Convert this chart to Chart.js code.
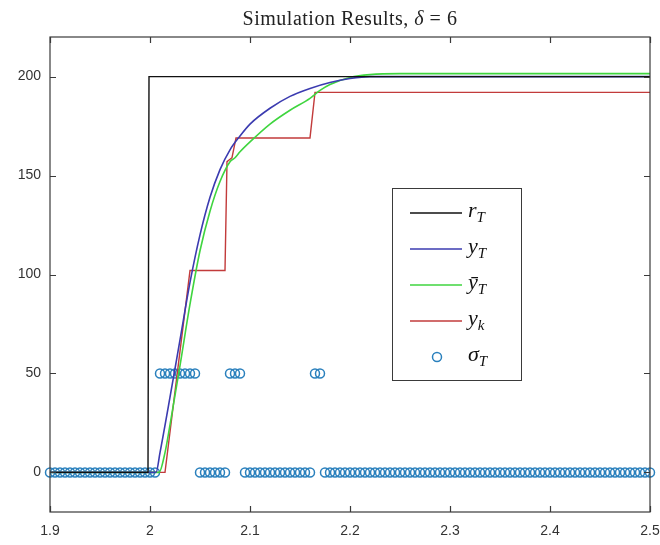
<!DOCTYPE html>
<html>
<head>
<meta charset="utf-8">
<script src="https://cdn.jsdelivr.net/npm/chart.js@4.4.0/dist/chart.umd.min.js"></script>
<style>
  html, body { margin: 0; padding: 0; background: #fff; }
  #wrap { width: 660px; height: 545px; }
</style>
</head>
<body>
<div id="wrap"><canvas id="sim"></canvas></div>
<script>
var xTicks = [1.9, 2.0, 2.1, 2.2, 2.3, 2.4, 2.5];
var yTicks = [0, 50, 100, 150, 200];

// r_T : reference step
var tRef = [1.9, 1.998, 1.999, 2.5];
var rRef = [0, 0, 200, 200];

// y_T : plant output
var tOut = [1.9, 2.006, 2.01, 2.02, 2.03, 2.04, 2.05, 2.06, 2.07, 2.08, 2.09, 2.10, 2.12, 2.14, 2.16, 2.18, 2.20, 2.22, 2.5];
var yOut = [0, 0, 10, 38, 67, 96, 120, 139, 153, 163, 170, 176, 184, 190, 194, 197, 199, 200, 200];

// y-bar_T : estimated output
var tEst = [1.9, 2.009, 2.015, 2.02, 2.03, 2.04, 2.05, 2.06, 2.07, 2.08, 2.085, 2.09, 2.10, 2.12, 2.14, 2.16, 2.17, 2.18, 2.20, 2.22, 2.25, 2.5];
var yEst = [0, 0, 10, 24, 54, 85, 112, 132, 147, 157, 159, 162, 167, 176, 183, 189, 193, 196, 199.5, 201, 201.5, 201.5];

// y_k : sampled output
var tSmp = [1.9, 2.015, 2.04, 2.075, 2.077, 2.082, 2.086, 2.16, 2.165, 2.5];
var ySmp = [0, 0, 102, 102, 157, 159, 169, 169, 192, 192];

// sigma_T : trigger times
var tTrig = [
  1.900, 1.905, 1.910, 1.915, 1.920, 1.925, 1.930, 1.935, 1.940, 1.945,
  1.950, 1.955, 1.960, 1.965, 1.970, 1.975, 1.980, 1.985, 1.990, 1.995,
  2.000, 2.005, 2.010, 2.015, 2.020, 2.025, 2.030, 2.035, 2.040, 2.045,
  2.050, 2.055, 2.060, 2.065, 2.070, 2.075, 2.080, 2.085, 2.090, 2.095,
  2.100, 2.105, 2.110, 2.115, 2.120, 2.125, 2.130, 2.135, 2.140, 2.145,
  2.150, 2.155, 2.160, 2.165, 2.170, 2.175, 2.180, 2.185, 2.190, 2.195,
  2.200, 2.205, 2.210, 2.215, 2.220, 2.225, 2.230, 2.235, 2.240, 2.245,
  2.250, 2.255, 2.260, 2.265, 2.270, 2.275, 2.280, 2.285, 2.290, 2.295,
  2.300, 2.305, 2.310, 2.315, 2.320, 2.325, 2.330, 2.335, 2.340, 2.345,
  2.350, 2.355, 2.360, 2.365, 2.370, 2.375, 2.380, 2.385, 2.390, 2.395,
  2.400, 2.405, 2.410, 2.415, 2.420, 2.425, 2.430, 2.435, 2.440, 2.445,
  2.450, 2.455, 2.460, 2.465, 2.470, 2.475, 2.480, 2.485, 2.490, 2.495,
  2.500
];
var sTrig = [
  0, 0, 0, 0, 0, 0, 0, 0, 0, 0,
  0, 0, 0, 0, 0, 0, 0, 0, 0, 0,
  0, 0, 50, 50, 50, 50, 50, 50, 50, 50,
  0, 0, 0, 0, 0, 0, 50, 50, 50, 0,
  0, 0, 0, 0, 0, 0, 0, 0, 0, 0,
  0, 0, 0, 50, 50, 0, 0, 0, 0, 0,
  0, 0, 0, 0, 0, 0, 0, 0, 0, 0,
  0, 0, 0, 0, 0, 0, 0, 0, 0, 0,
  0, 0, 0, 0, 0, 0, 0, 0, 0, 0,
  0, 0, 0, 0, 0, 0, 0, 0, 0, 0,
  0, 0, 0, 0, 0, 0, 0, 0, 0, 0,
  0, 0, 0, 0, 0, 0, 0, 0, 0, 0,
  0
];

function pts(xs, ys) {
  return xs.map(function (x, i) { return { x: x, y: ys[i] }; });
}

var axisColor = '#3a3a3a';
var tickFont = { family: '"Liberation Sans", Arial, sans-serif', size: 14 };

// box round the axes with inward tick marks on all four sides
var axesBox = {
  id: 'axesBox',
  afterDatasetsDraw: function (chart) {
    var a = chart.chartArea, ctx = chart.ctx;
    var xs = chart.scales.x, ys = chart.scales.y;
    ctx.save();
    ctx.strokeStyle = axisColor;
    ctx.lineWidth = 1.2;
    ctx.strokeRect(a.left, a.top, a.right - a.left, a.bottom - a.top);
    ctx.beginPath();
    xTicks.forEach(function (v) {
      var px = Math.round(xs.getPixelForValue(v)) + 0.5;
      ctx.moveTo(px, a.bottom); ctx.lineTo(px, a.bottom - 6);
      ctx.moveTo(px, a.top); ctx.lineTo(px, a.top + 6);
    });
    yTicks.forEach(function (v) {
      var py = Math.round(ys.getPixelForValue(v)) + 0.5;
      ctx.moveTo(a.left, py); ctx.lineTo(a.left + 6, py);
      ctx.moveTo(a.right, py); ctx.lineTo(a.right - 6, py);
    });
    ctx.stroke();
    ctx.restore();
  }
};

// title centred over the axes, delta in italics
var mathTitle = {
  id: 'mathTitle',
  afterDraw: function (chart) {
    var a = chart.chartArea, ctx = chart.ctx;
    var parts = [
      ['Simulation Results, ', 'normal'],
      ['\u03B4', 'italic'],
      [' = 6', 'normal']
    ];
    var size = 20;
    ctx.save();
    ctx.fillStyle = '#222';
    ctx.textBaseline = 'alphabetic';
    ctx.letterSpacing = '0.5px';
    var total = 0;
    parts.forEach(function (p) {
      ctx.font = p[1] + ' ' + size + 'px "Liberation Serif", serif';
      total += ctx.measureText(p[0]).width;
    });
    var x = (a.left + a.right) / 2 - total / 2;
    parts.forEach(function (p) {
      ctx.font = p[1] + ' ' + size + 'px "Liberation Serif", serif';
      ctx.fillText(p[0], x, 25);
      x += ctx.measureText(p[0]).width;
    });
    ctx.restore();
  }
};

// legend with subscripted math labels
var mathLegend = {
  id: 'mathLegend',
  afterDraw: function (chart) {
    var ctx = chart.ctx;
    var bx = 392, by = 188, bw = 129, bh = 192;
    ctx.save();
    ctx.fillStyle = '#fff';
    ctx.fillRect(bx, by, bw, bh);
    ctx.strokeStyle = axisColor;
    ctx.lineWidth = 1;
    ctx.strokeRect(bx + 0.5, by + 0.5, bw, bh);
    chart.data.datasets.forEach(function (ds, i) {
      var cy = by + 25 + i * 36;
      if (ds.showLine === false) {
        ctx.beginPath();
        ctx.arc(437, cy, 4.5, 0, Math.PI * 2);
        ctx.strokeStyle = ds.borderColor;
        ctx.lineWidth = 1.5;
        ctx.stroke();
      } else {
        ctx.beginPath();
        ctx.moveTo(410, cy); ctx.lineTo(462, cy);
        ctx.strokeStyle = ds.borderColor;
        ctx.lineWidth = 1.5;
        ctx.stroke();
      }
      var bits = ds.label.split('_');
      ctx.fillStyle = '#111';
      ctx.textBaseline = 'alphabetic';
      ctx.font = 'italic 22px "Liberation Serif", serif';
      ctx.fillText(bits[0], 468, cy + 4);
      var w = ctx.measureText(bits[0]).width;
      ctx.font = 'italic 15px "Liberation Serif", serif';
      ctx.fillText(bits[1], 468 + w, cy + 9);
    });
    ctx.restore();
  }
};

var config = {
  type: 'line',
  data: {
    datasets: [{
      label: 'r_T',
      data: pts(tRef, rRef),
      borderColor: '#111111',
      borderWidth: 1.4,
      pointRadius: 0,
      tension: 0
    }, {
      label: 'y_T',
      data: pts(tOut, yOut),
      borderColor: '#3b3bb0',
      borderWidth: 1.6,
      pointRadius: 0,
      cubicInterpolationMode: 'monotone'
    }, {
      label: '\u0233_T',
      data: pts(tEst, yEst),
      borderColor: '#3fd53f',
      borderWidth: 1.6,
      pointRadius: 0,
      cubicInterpolationMode: 'monotone'
    }, {
      label: 'y_k',
      data: pts(tSmp, ySmp),
      borderColor: '#c23b3b',
      borderWidth: 1.4,
      pointRadius: 0,
      tension: 0
    }, {
      label: '\u03C3_T',
      data: pts(tTrig, sTrig),
      showLine: false,
      borderColor: '#2a80bd',
      backgroundColor: 'rgba(255,255,255,0)',
      pointRadius: 4.5,
      pointBorderWidth: 1.5,
      clip: false
    }]
  },
  options: {
    responsive: true,
    maintainAspectRatio: false,
    animation: false,
    devicePixelRatio: 1,
    layout: { padding: { top: 37, right: 10, left: 0, bottom: 0 } },
    plugins: {
      legend: { display: false },
      title: { display: false },
      tooltip: { enabled: false }
    },
    scales: {
      x: {
        type: 'linear',
        min: 1.9,
        max: 2.5,
        afterBuildTicks: function (s) { s.ticks = xTicks.map(function (v) { return { value: v }; }); },
        afterFit: function (s) { s.height = 33; s.paddingLeft = 0; s.paddingRight = 0; },
        grid: { display: false, drawTicks: false },
        border: { display: false },
        ticks: {
          padding: 11,
          color: '#333',
          font: tickFont,
          maxRotation: 0,
          callback: function (v) { return String(Number(v.toFixed(1))); }
        }
      },
      y: {
        min: -20,
        max: 220,
        afterBuildTicks: function (s) { s.ticks = yTicks.map(function (v) { return { value: v }; }); },
        afterFit: function (s) { s.width = 50; s.paddingTop = 0; s.paddingBottom = 0; },
        grid: { display: false, drawTicks: false },
        border: { display: false },
        ticks: {
          padding: 9,
          color: '#333',
          font: tickFont
        }
      }
    }
  },
  plugins: [axesBox, mathTitle, mathLegend]
};

window.onload = function () {
  window.simChart = new Chart(document.getElementById('sim'), config);
};
</script>
</body>
</html>
